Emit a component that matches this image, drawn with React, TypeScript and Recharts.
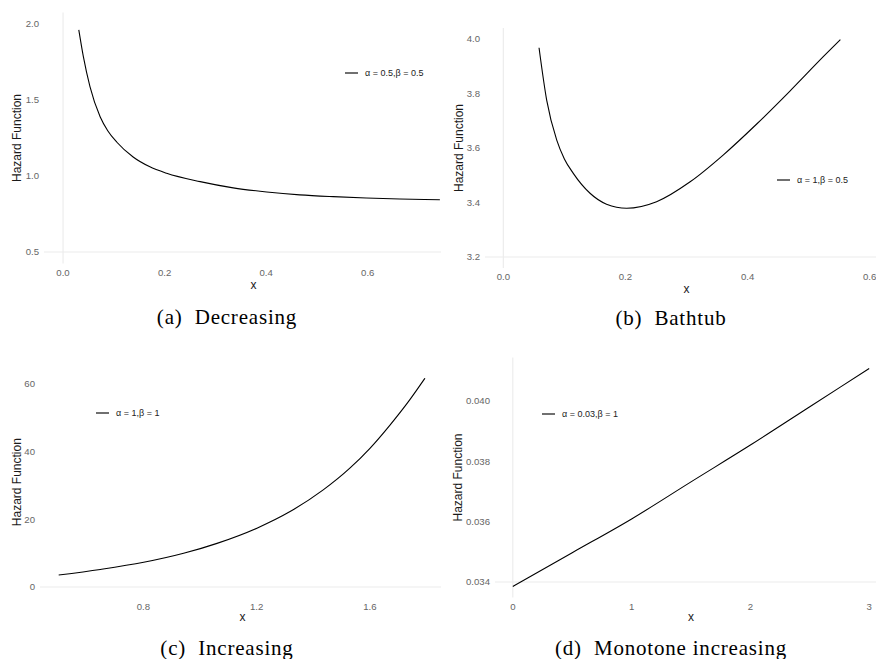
import { Legend, Line, LineChart, ReferenceLine, XAxis, YAxis } from "recharts";

// (a) Decreasing, alpha = 0.5, beta = 0.5
const decX = [0.031, 0.04, 0.053, 0.073, 0.088, 0.106, 0.138, 0.17, 0.204, 0.27, 0.335, 0.401, 0.466, 0.532, 0.597, 0.663, 0.742];
const decY = [1.961, 1.785, 1.588, 1.39, 1.298, 1.222, 1.125, 1.062, 1.018, 0.963, 0.922, 0.895, 0.876, 0.864, 0.855, 0.849, 0.844];
const decXTicks = [0, 0.2, 0.4, 0.6];
const decYTicks = [0.5, 1.0, 1.5, 2.0];

// (b) Bathtub, alpha = 1, beta = 0.5
const bathX = [0.0585, 0.071, 0.0875, 0.1, 0.1146, 0.142, 0.169, 0.202, 0.251, 0.306, 0.36, 0.415, 0.469, 0.524, 0.552];
const bathY = [3.968, 3.776, 3.629, 3.56, 3.507, 3.434, 3.394, 3.379, 3.403, 3.476, 3.574, 3.688, 3.808, 3.935, 3.998];
const bathXTicks = [0, 0.2, 0.4, 0.6];
const bathYTicks = [3.2, 3.4, 3.6, 3.8, 4.0];

// (c) Increasing, alpha = 1, beta = 1
const incX = [0.501, 0.648, 0.801, 0.942, 1.06, 1.201, 1.318, 1.435, 1.53, 1.6, 1.67, 1.741, 1.794];
const incY = [3.55, 5.2, 7.3, 9.96, 12.9, 17.4, 22.3, 28.7, 35.2, 41.0, 47.8, 55.4, 61.7];
const incXTicks = [0.8, 1.2, 1.6];
const incYTicks = [0, 20, 40, 60];

// (d) Monotone increasing, alpha = 0.03, beta = 1
const monX = [0, 0.5, 1, 1.5, 2, 2.5, 3];
const monY = [0.03385, 0.03497, 0.03609, 0.03732, 0.03854, 0.03981, 0.04108];
const monXTicks = [0, 1, 2, 3];
const monYTicks = [0.034, 0.036, 0.038, 0.04];

const toRows = (xs: number[], ys: number[]) => xs.map((x, i) => ({ x, y: ys[i] }));

const SANS = '"Liberation Sans", Arial, sans-serif';
const GRID = "#ebebeb";

interface PanelProps {
	left: number;
	top: number;
	clipW: number;
	width: number;
	yAxisW: number;
	marginTop: number;
	marginRight: number;
	marginBottom: number;
	xDomain: [number, number];
	yDomain: [number, number];
	xTicks: number[];
	yTicks: number[];
	xDigits: number;
	yDigits: number;
	data: { x: number; y: number }[];
	name: string;
	legendLeft: number;
	legendTop: number;
	titleX: number;
	xLabelDy: number;
	refX?: number;
	refY: number;
	caption: string;
	captionX: number;
	captionY: number;
}

const renderLegend = (props: any) => {
	const item = props.payload?.[0];
	return (
		<div style={{ display: "flex", alignItems: "center", height: 12, whiteSpace: "nowrap" }}>
			<svg width={13} height={12}>
				<line x1={0} x2={13} y1={6} y2={6} stroke="#222" strokeWidth={1.3} />
			</svg>
			<span style={{ marginLeft: 7, fontSize: 9, color: "#222", fontFamily: SANS }}>{item?.value}</span>
		</div>
	);
};

function Panel(p: PanelProps) {
	const H = 300;
	return (
		<>
			<div style={{ position: "absolute", left: p.left, top: p.top, width: p.clipW, height: H, overflow: "hidden" }}>
				<LineChart
					width={p.width}
					height={H}
					data={p.data}
					margin={{ top: p.marginTop, right: p.marginRight, bottom: p.marginBottom, left: 0 }}
				>
					<XAxis
						dataKey="x"
						type="number"
						domain={p.xDomain}
						ticks={p.xTicks}
						interval={0}
						allowDataOverflow
						axisLine={false}
						tickLine={false}
						tickSize={0}
						tickMargin={5.5}
						height={30}
						tick={{ fill: "#666", fontSize: 9.6, fontFamily: SANS }}
						tickFormatter={(v: number) => v.toFixed(p.xDigits)}
						label={(lp: any) => {
							const vb = lp.viewBox;
							return (
								<text x={vb.x + vb.width / 2} y={vb.y + p.xLabelDy + 3} textAnchor="middle" fontSize={12} fontFamily={SANS} fill="#1a1a1a">
									x
								</text>
							);
						}}
					/>
					<YAxis
						type="number"
						domain={p.yDomain}
						ticks={p.yTicks}
						interval={0}
						allowDataOverflow
						axisLine={false}
						tickLine={false}
						tickSize={0}
						tickMargin={5}
						width={p.yAxisW}
						tick={{ fill: "#666", fontSize: 9.6, fontFamily: SANS }}
						tickFormatter={(v: number) => v.toFixed(p.yDigits)}
						label={(lp: any) => {
							const vb = lp.viewBox;
							const cy = vb.y + vb.height / 2;
							return (
								<text
									x={p.titleX}
									y={cy}
									dy="0.35em"
									textAnchor="middle"
									fontSize={12}
									fontFamily={SANS}
									fill="#1a1a1a"
									transform={`rotate(-90 ${p.titleX} ${cy})`}
								>
									Hazard Function
								</text>
							);
						}}
					/>
					{p.refX !== undefined && <ReferenceLine x={p.refX} stroke={GRID} strokeWidth={1.1} />}
					<ReferenceLine y={p.refY} stroke={GRID} strokeWidth={1.1} />
					<Legend
						content={renderLegend}
						layout="horizontal"
						verticalAlign="middle"
						align="center"
						wrapperStyle={{ left: p.legendLeft, top: p.legendTop, width: "auto" }}
					/>
					<Line
						type="monotone"
						dataKey="y"
						name={p.name}
						stroke="#000"
						strokeWidth={1.1}
						dot={false}
						isAnimationActive={false}
					/>
				</LineChart>
			</div>
			<div
				style={{
					position: "absolute",
					left: p.captionX - 150,
					top: p.captionY - 12,
					width: 300,
					height: 24,
					lineHeight: "24px",
					textAlign: "center",
					fontFamily: '"Liberation Serif", "Times New Roman", serif',
					fontSize: 21,
					letterSpacing: 0.8,
					whiteSpace: "pre",
					color: "#000",
				}}
			>
				{p.caption}
			</div>
		</>
	);
}

export default function App() {
	return (
		<div style={{ position: "absolute", left: 0, top: 0, width: 876, height: 659, background: "#fff", overflow: "hidden" }}>
			<Panel
				left={0}
				top={0}
				clipW={441}
				width={470}
				yAxisW={44}
				marginTop={12.6}
				marginRight={7}
				marginBottom={6.6}
				xDomain={[-0.0375, 0.7875]}
				yDomain={[0.425, 2.075]}
				xTicks={decXTicks}
				yTicks={decYTicks}
				xDigits={1}
				yDigits={1}
				data={toRows(decX, decY)}
				name="α = 0.5,β = 0.5"
				legendLeft={345}
				legendTop={66.7}
				titleX={17}
				xLabelDy={22.6}
				refX={0}
				refY={0.5}
				caption="(a)  Decreasing"
				captionX={227}
				captionY={317}
			/>
			<Panel
				left={440}
				top={0}
				clipW={436}
				width={460}
				yAxisW={45}
				marginTop={28.1}
				marginRight={12}
				marginBottom={2.1}
				xDomain={[-0.03, 0.63]}
				yDomain={[3.16, 4.04]}
				xTicks={bathXTicks}
				yTicks={bathYTicks}
				xDigits={1}
				yDigits={1}
				data={toRows(bathX, bathY)}
				name="α = 1,β = 0.5"
				legendLeft={337}
				legendTop={174}
				titleX={19}
				xLabelDy={22}
				refX={0}
				refY={3.2}
				caption="(b)  Bathtub"
				captionX={671}
				captionY={318}
			/>
			<Panel
				left={0}
				top={330}
				clipW={441}
				width={470}
				yAxisW={40}
				marginTop={36.8}
				marginRight={25}
				marginBottom={2.5}
				xDomain={[0.435, 1.865]}
				yDomain={[-3.1, 65.1]}
				xTicks={incXTicks}
				yTicks={incYTicks}
				xDigits={1}
				yDigits={0}
				data={toRows(incX, incY)}
				name="α = 1,β = 1"
				legendLeft={96}
				legendTop={77}
				titleX={17}
				xLabelDy={20.5}
				refY={0}
				caption="(c)  Increasing"
				captionX={227}
				captionY={648}
			/>
			<Panel
				left={440}
				top={330}
				clipW={436}
				width={460}
				yAxisW={55}
				marginTop={27.6}
				marginRight={13}
				marginBottom={2.6}
				xDomain={[-0.15, 3.15]}
				yDomain={[0.0334885, 0.0414415]}
				xTicks={monXTicks}
				yTicks={monYTicks}
				xDigits={0}
				yDigits={3}
				data={toRows(monX, monY)}
				name="α = 0.03,β = 1"
				legendLeft={102}
				legendTop={78}
				titleX={18}
				xLabelDy={20.6}
				refX={0}
				refY={0.034}
				caption="(d)  Monotone increasing"
				captionX={671}
				captionY={648}
			/>
		</div>
	);
}
